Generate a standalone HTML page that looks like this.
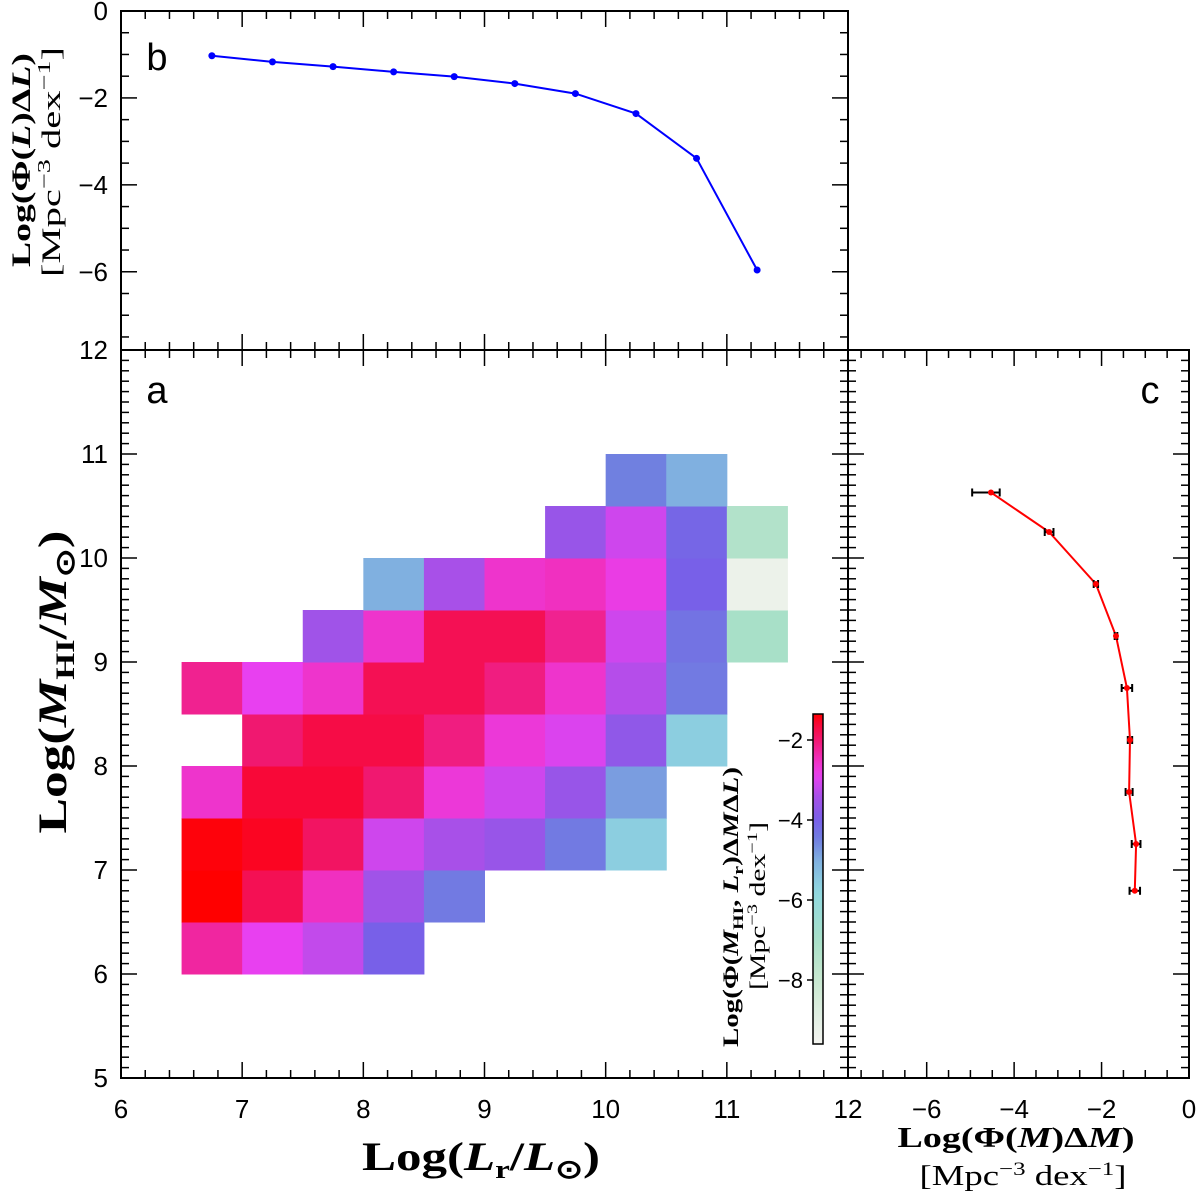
<!DOCTYPE html>
<html><head><meta charset="utf-8"><style>
html,body{margin:0;padding:0;background:#fff;}
svg{display:block;}
text{font-family:"Liberation Sans",sans-serif;fill:#000;}
.ser{font-family:"Liberation Serif",serif;font-weight:bold;}
</style></head><body>
<svg id="fig" width="1200" height="1200" viewBox="0 0 1200 1200" xmlns="http://www.w3.org/2000/svg"></svg>
<script>
// ---- data ----
const xBins = [6.5,7.0,7.5,8.0,8.5,9.0,9.5,10.0,10.5,11.0];
const yBins = [6.0,6.5,7.0,7.5,8.0,8.5,9.0,9.5,10.0,10.5];
const N=null;
const heat = [
 [-2.3,-2.9,-3.2,-4.0,N,N,N,N,N,N],
 [-1.35,-1.8,-2.5,-3.5,-4.4,N,N,N,N,N],
 [-1.4,-1.5,-1.9,-3.1,-3.4,-3.6,-4.4,-5.6,N,N],
 [-2.6,-1.6,-1.6,-2.0,-2.7,-3.1,-3.6,-4.8,N,N],
 [N,-2.0,-1.7,-1.7,-2.1,-2.7,-3.0,-3.7,-5.6,N],
 [-2.2,-2.9,-2.6,-1.8,-1.8,-2.1,-2.6,-3.3,-4.4,N],
 [N,N,-3.5,-2.6,-1.8,-1.8,-2.2,-3.1,-4.3,-7.0],
 [N,N,N,-5.0,-3.4,-2.6,-2.5,-2.8,-4.0,-9.3],
 [N,N,N,N,N,N,-3.6,-3.1,-4.1,-7.3],
 [N,N,N,N,N,N,N,-4.5,-5.0,N]
];
const lumX = [6.75,7.25,7.75,8.25,8.75,9.25,9.75,10.25,10.75,11.25];
const lumPhi = [-1.03,-1.17,-1.28,-1.40,-1.51,-1.67,-1.90,-2.36,-3.39,-5.96];
const massY = [10.63,10.25,9.75,9.25,8.75,8.25,7.75,7.25,6.8];
const massPhi = [-4.53,-3.2,-2.13,-1.67,-1.42,-1.35,-1.37,-1.21,-1.24];
const massErrLo = [0.43,0.1,0.05,0.03,0.12,0.05,0.08,0.1,0.12];
const massErrHi = [0.2,0.1,0.05,0.03,0.12,0.05,0.08,0.1,0.12];
const cbTicks = [-2,-4,-6,-8];

// ---- geometry ----
const A={l:121,r:848,t:350,b:1078}, B={t:11,b:350}, C={l:848,r:1189};
const xA=v=>A.l+(v-6)*(A.r-A.l)/6;
const yA=v=>A.b-(v-5)*(A.b-A.t)/7;
const yB=v=>B.t+(0-v)*(B.b-B.t)/7.8;
const xC=v=>C.r-(0-v)*(C.r-C.l)/7.8;
const CB={x:813,w:10,t:714,b:1044,vmax:-1.35,vmin:-9.6};
const yCB=v=>CB.t+(CB.vmax-v)*(CB.b-CB.t)/(CB.vmax-CB.vmin);

const stops=[[-1.35,[255,0,0]],[-1.6,[248,8,56]],[-2.0,[240,24,112]],[-2.5,[240,48,192]],[-2.9,[232,64,240]],[-3.4,[168,80,232]],[-4.0,[120,96,232]],[-4.5,[112,128,224]],[-5.0,[128,176,224]],[-5.8,[144,216,224]],[-7,[168,224,200]],[-8,[200,232,208]],[-9.6,[244,244,240]]];
function cmap(v){
 if(v>=stops[0][0])return 'rgb('+stops[0][1]+')';
 for(let i=1;i<stops.length;i++){if(v>=stops[i][0]){const [a,ca]=stops[i-1],[b,cb]=stops[i];const t=(a-v)/(a-b);return 'rgb('+ca.map((c,k)=>Math.round(c+(cb[k]-c)*t)).join(',')+')';}}
 return 'rgb('+stops[stops.length-1][1]+')';
}
const svg=document.getElementById('fig');const NS='http://www.w3.org/2000/svg';
function el(tag,attrs,parent){const e=document.createElementNS(NS,tag);for(const k in attrs)e.setAttribute(k,attrs[k]);(parent||svg).appendChild(e);return e;}
function txt(x,y,s,size,anchor,cls,rot,len){const t=el('text',{x:x,y:y,'font-size':size,'text-anchor':anchor||'middle'});if(cls)t.setAttribute('class',cls);if(rot)t.setAttribute('transform','rotate('+rot+' '+x+' '+y+')');if(len){t.setAttribute('textLength',len);t.setAttribute('lengthAdjust','spacingAndGlyphs');}t.innerHTML=s;return t;}

// heatmap
const gH=el('g',{});


heat.forEach((row,j)=>row.forEach((v,i)=>{if(v===null)return;
 const r=el('rect',{x:xA(xBins[i]),y:yA(yBins[j]+0.5),width:xA(xBins[i]+0.5)-xA(xBins[i])+0.5,height:yA(yBins[j])-yA(yBins[j]+0.5)+0.5,fill:cmap(v)},gH);
 
 
}));

function ticks(x0,y0,orient,scale,from,to,major,minor,len){
 for(let v=from;v<=to+1e-9;v+=minor){const isM=Math.abs(v/major-Math.round(v/major))<1e-6;const L=isM?len:len/2;const p=scale(v);
  if(orient==='bottom'){el('line',{x1:p,x2:p,y1:y0,y2:y0-L,stroke:'#000','stroke-width':1.5});}
  if(orient==='top'){el('line',{x1:p,x2:p,y1:y0,y2:y0+L,stroke:'#000','stroke-width':1.5});}
  if(orient==='left'){el('line',{x1:x0,x2:x0+L,y1:p,y2:p,stroke:'#000','stroke-width':1.5});}
  if(orient==='right'){el('line',{x1:x0,x2:x0-L,y1:p,y2:p,stroke:'#000','stroke-width':1.5});}
 }}
const fr=[[A.l,A.t,A.r-A.l,A.b-A.t,'panel-a-frame'],[A.l,B.t,A.r-A.l,B.b-B.t,'panel-b-frame'],[C.l,A.t,C.r-C.l,A.b-A.t,'panel-c-frame']];
fr.forEach(f=>{const r=el('rect',{x:f[0],y:f[1],width:f[2],height:f[3],fill:'none',stroke:'#000','stroke-width':2});});
ticks(0,A.b,'bottom',xA,6,12,1,0.2,16);ticks(0,A.t,'top',xA,6,12,1,0.2,16);
ticks(A.l,0,'left',yA,5,12,1,0.1,16);ticks(A.r,0,'right',yA,5,12,1,0.1,16);
ticks(0,B.b,'bottom',xA,6,12,1,0.2,16);ticks(0,B.t,'top',xA,6,12,1,0.2,16);
ticks(A.l,0,'left',v=>yB(-v),0,7.8,2,0.5,16);ticks(A.r,0,'right',v=>yB(-v),0,7.8,2,0.5,16);
ticks(0,A.b,'bottom',v=>xC(-v),0,7.8,2,0.5,16);ticks(0,A.t,'top',v=>xC(-v),0,7.8,2,0.5,16);
ticks(C.l,0,'left',yA,5,12,1,0.1,16);ticks(C.r,0,'right',yA,5,12,1,0.1,16);

for(let v=6;v<=12;v++)txt(xA(v),1118,String(v),26);
for(let v=5;v<=12;v++)txt(108,yA(v)+9,String(v),26,'end');
[0,-2,-4,-6].forEach(v=>txt(108,yB(v)+9,v===0?'0':'\u2212'+(-v),26,'end'));
[-6,-4,-2,0].forEach(v=>txt(xC(v),1118,v===0?'0':'\u2212'+(-v),26));

txt(157,70,'b',38);txt(157,403,'a',38);txt(1150,403,'c',38);

const t1=txt(481,1170,'Log(<tspan font-style="italic">L</tspan><tspan font-size="26" dy="8">r</tspan><tspan dy="-8">/</tspan><tspan font-style="italic">L</tspan><tspan font-size="26" dy="8">\u2299</tspan><tspan dy="-8">)</tspan>',40,'middle','ser',0,238);

const t2=txt(66,682,'Log(<tspan font-style="italic">M</tspan><tspan font-size="26" dy="8">HI</tspan><tspan dy="-8">/</tspan><tspan font-style="italic">M</tspan><tspan font-size="26" dy="8">\u2299</tspan><tspan dy="-8">)</tspan>',40,'middle','ser',-90,303);

const t3=txt(30,160,'Log(\u03A6(<tspan font-style="italic">L</tspan>)\u0394<tspan font-style="italic">L</tspan>)',26,'middle','ser',-90,214);

const t3b=txt(60,162,'[Mpc<tspan font-size="18" dy="-10">\u22123</tspan><tspan dy="10"> dex</tspan><tspan font-size="18" dy="-10">\u22121</tspan><tspan dy="10">]</tspan>',26,'middle','ser',-90,230);
t3b.setAttribute('style','font-weight:normal');

const t4=txt(1016,1147,'Log(\u03A6(<tspan font-style="italic">M</tspan>)\u0394<tspan font-style="italic">M</tspan>)',28,'middle','ser',0,237);

const t4b=txt(1023,1185,'[Mpc<tspan font-size="19" dy="-10">\u22123</tspan><tspan dy="10"> dex</tspan><tspan font-size="19" dy="-10">\u22121</tspan><tspan dy="10">]</tspan>',28,'middle','ser',0,207);
t4b.setAttribute('style','font-weight:normal');


const grad=el('defs',{});const lg=el('linearGradient',{id:'cbg',x1:0,y1:0,x2:0,y2:1},grad);
for(let k=0;k<=40;k++){const v=CB.vmax+(CB.vmin-CB.vmax)*k/40;el('stop',{offset:k/40,'stop-color':cmap(v)},lg);}
const cb=el('rect',{x:CB.x,y:CB.t,width:CB.w,height:CB.b-CB.t,fill:'url(#cbg)',stroke:'#000','stroke-width':1.5});

cbTicks.forEach(v=>{const y=yCB(v);el('line',{x1:CB.x-6,x2:CB.x,y1:y,y2:y,stroke:'#000','stroke-width':1.5});txt(CB.x-10,y+8,'\u2212'+(-v),22,'end');});
const t5=txt(738,907,'Log(\u03A6(<tspan font-style="italic">M</tspan><tspan font-size="15" dy="5">HI</tspan><tspan dy="-5">, </tspan><tspan font-style="italic">L</tspan><tspan font-size="15" dy="5">r</tspan><tspan dy="-5">)\u0394</tspan><tspan font-style="italic">M</tspan>\u0394<tspan font-style="italic">L</tspan>)',22,'middle','ser',-90,280);

const t5b=txt(765,906,'[Mpc<tspan font-size="15" dy="-8">\u22123</tspan><tspan dy="8"> dex</tspan><tspan font-size="15" dy="-8">\u22121</tspan><tspan dy="8">]</tspan>',22,'middle','ser',-90,168);
t5b.setAttribute('style','font-weight:normal');


const pb=el('polyline',{points:lumX.map((x,i)=>xA(x)+','+yB(lumPhi[i])).join(' '),fill:'none',stroke:'#0000ff','stroke-width':2});

lumX.forEach((x,i)=>{const c=el('circle',{cx:xA(x),cy:yB(lumPhi[i]),r:3.5,fill:'#0000ff'});});

const pc=el('polyline',{points:massY.map((y,i)=>xC(massPhi[i])+','+yA(y)).join(' '),fill:'none',stroke:'#ff0000','stroke-width':2});

massY.forEach((y,i)=>{const py=yA(y),x0=xC(massPhi[i]-massErrLo[i]),x1=xC(massPhi[i]+massErrHi[i]);
 const g=el('g',{});
 el('line',{x1:x0,x2:x1,y1:py,y2:py,stroke:'#000','stroke-width':2},g);
 el('line',{x1:x0,x2:x0,y1:py-4,y2:py+4,stroke:'#000','stroke-width':2},g);
 el('line',{x1:x1,x2:x1,y1:py-4,y2:py+4,stroke:'#000','stroke-width':2},g);
 el('circle',{cx:xC(massPhi[i]),cy:py,r:3,fill:'#ff0000'},g);
});
</script>
</body></html>
